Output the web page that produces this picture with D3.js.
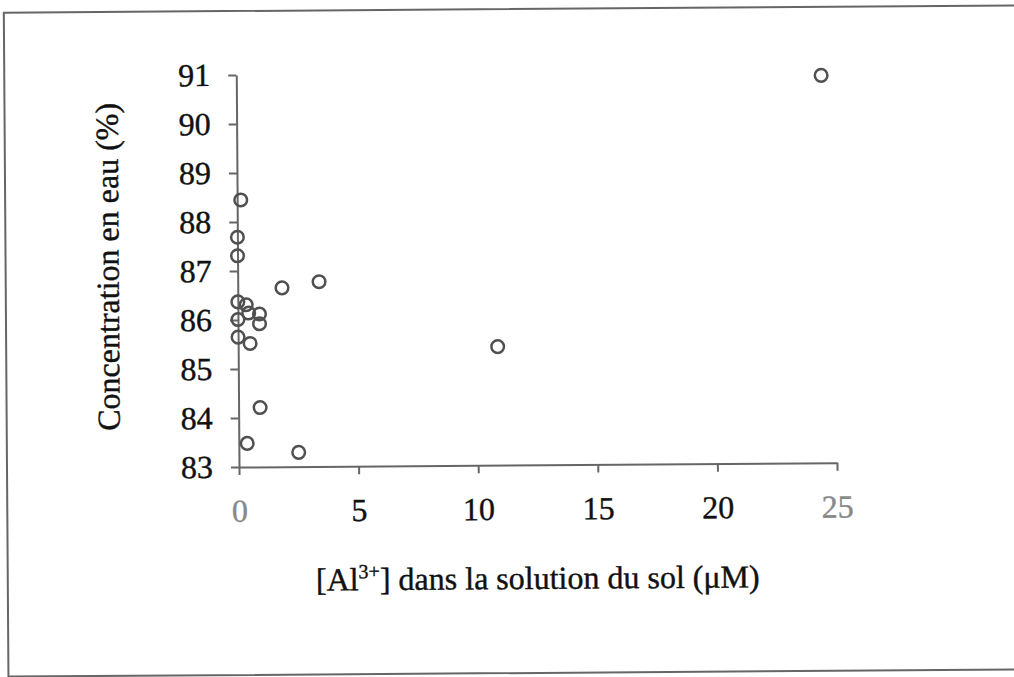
<!DOCTYPE html>
<html>
<head>
<meta charset="utf-8">
<script src="https://cdn.jsdelivr.net/npm/d3@7"></script>
<style>
  html, body { margin: 0; padding: 0; background: #fff; }
  svg { display: block; }
  text { font-family: "Liberation Serif", "Times New Roman", serif; }
</style>
</head>
<body>
<svg id="chart" width="1014" height="677"></svg>
<script>
// Soil-solution Al3+ (µM) versus water content (%)
const alConc = [24.45, 0.15, 0, 0, 0, 0.35, 0, 0.45, 0.9, 0.9, 0, 0.5, 0.9, 0.35, 1.85, 3.4, 2.5, 10.85];
const waterPct = [90.91, 88.45, 87.69, 87.31, 86.37, 86.31, 86.01, 86.14, 86.12, 85.92, 85.65, 85.52, 84.21, 83.48, 86.65, 86.77, 83.29, 85.42];

const xTicks = [0, 5, 10, 15, 20, 25];
const yTicks = [83, 84, 85, 86, 87, 88, 89, 90, 91];

const xTitle = ["[Al", "3+", "] dans la solution du sol (\u03bcM)"];
const yTitle = "Concentration en eau (%)";

const svg = d3.select("#chart");
const ox = 239, oy = 467;            // plot origin
const axisColor = "#666";
const textColor = "#111";
const fontSize = 32;

// whole page is tilted very slightly
const page = svg.append("g").attr("transform", `rotate(-0.4, ${ox}, ${oy})`);

// outer frame
page.append("path")
  .attr("d", "M7,690 L7,11 L1030,11 M7,675 L1030,675")
  .attr("fill", "none")
  .attr("stroke", axisColor)
  .attr("stroke-width", 2);

const x = d3.scaleLinear().domain([0, 25]).range([ox, ox + 598]);
const y = d3.scaleLinear().domain([83, 91]).range([oy, oy - 392]);

// x axis
const gx = page.append("g").attr("transform", `translate(0,${oy})`)
  .call(d3.axisBottom(x).tickValues(xTicks).tickSize(8).tickSizeOuter(0).tickPadding(24));
gx.select(".domain").attr("stroke", axisColor).attr("stroke-width", 2);
gx.selectAll(".tick line").attr("stroke", axisColor).attr("stroke-width", 2);
gx.selectAll(".tick text")
  .attr("font-size", fontSize)
  .attr("font-family", "Liberation Serif, serif")
  .attr("fill", (d, i) => (i === 0 || i === xTicks.length - 1) ? "#888" : textColor)
  .attr("stroke", (d, i) => (i === 0 || i === xTicks.length - 1) ? "#888" : textColor)
  .attr("stroke-width", 0.4);

// y axis
const gy = page.append("g").attr("transform", `translate(${ox},0)`)
  .call(d3.axisLeft(y).tickValues(yTicks).tickSize(8).tickSizeOuter(0).tickPadding(18));
gy.select(".domain").attr("stroke", axisColor).attr("stroke-width", 2);
gy.selectAll(".tick line").attr("stroke", axisColor).attr("stroke-width", 2);
gy.selectAll(".tick text")
  .attr("font-size", fontSize)
  .attr("font-family", "Liberation Serif, serif")
  .attr("fill", textColor)
  .attr("stroke", textColor)
  .attr("stroke-width", 0.4);

// points
page.append("g").selectAll("circle")
  .data(alConc.map((v, i) => [v, waterPct[i]]))
  .join("circle")
  .attr("cx", d => x(d[0]))
  .attr("cy", d => y(d[1]))
  .attr("r", 6.3)
  .attr("fill", "none")
  .attr("stroke", "#505050")
  .attr("stroke-width", 2.5);

// axis titles
const xt = page.append("text")
  .attr("x", 537).attr("y", 591)
  .attr("text-anchor", "middle")
  .attr("font-size", fontSize)
  .attr("fill", textColor)
  .attr("stroke", textColor)
  .attr("stroke-width", 0.4);
xt.append("tspan").text(xTitle[0]);
xt.append("tspan").attr("dy", -12).attr("font-size", 20).text(xTitle[1]);
xt.append("tspan").attr("dy", 12).text(xTitle[2]);

page.append("text")
  .attr("transform", "translate(120,266) rotate(-90)")
  .attr("text-anchor", "middle")
  .attr("font-size", fontSize)
  .attr("fill", textColor)
  .attr("stroke", textColor)
  .attr("stroke-width", 0.4)
  .text(yTitle);
</script>
</body>
</html>
